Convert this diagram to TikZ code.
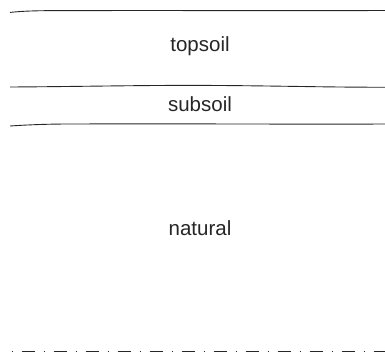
\documentclass[tikz,border=0pt]{standalone}
\usepackage{fontspec}
\setmainfont{Liberation Sans}
\begin{document}
\begin{tikzpicture}[x=1pt,y=-1pt,
  layer/.style={draw=black!85,line width=0.9pt},
  label/.style={anchor=base,font=\fontsize{20.5}{23}\selectfont,text=black!85,inner sep=0pt},
  datum/.style={draw=black!85,line width=1.6pt,dash pattern=on 1.6pt off 8.4pt on 13pt off 9pt}]
  \useasboundingbox (0,0) rectangle (385,356);
  % horizon boundaries, hand-drawn feel
  \draw[layer] (10,12.4) .. controls (20,11.4) and (30,10.6) .. (60,10.6)
                 .. controls (200,10.4) and (300,10.8) .. (385,10.5);
  \draw[layer] (10,87) .. controls (80,86.6) and (140,85.2) .. (200,85.4)
                 .. controls (270,85.6) and (330,87.4) .. (385,87.2);
  \draw[layer] (10,126) .. controls (25,125) and (45,124) .. (70,124)
                 .. controls (200,123.6) and (300,124.4) .. (385,124);
  % datum line at the base
  \draw[datum] (11.5,351.5) -- (385,351.5);
  % horizon names
  \node[label] (topsoil) at (200,51.5) {topsoil};
  \node[label] (subsoil) at (200,111.5) {subsoil};
  \node[label] (natural) at (200,235) {natural};
\end{tikzpicture}
\end{document}
